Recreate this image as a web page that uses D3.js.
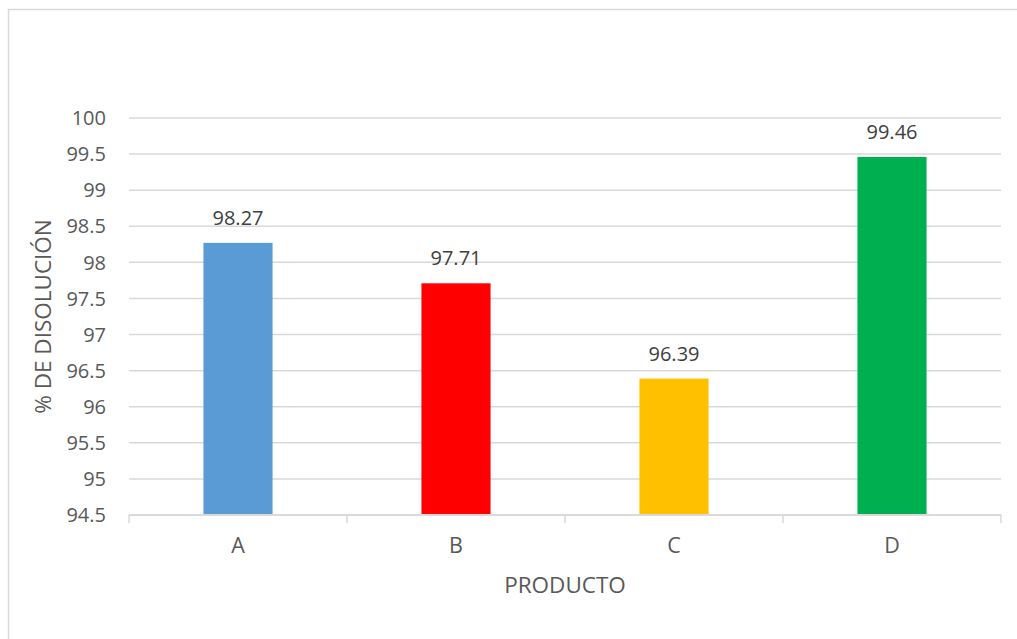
<!DOCTYPE html>
<html>
<head>
<meta charset="utf-8">
<script src="https://cdn.jsdelivr.net/npm/d3@7"></script>
<style>
  html, body { margin: 0; padding: 0; background: #fff; }
  svg { display: block; font-family: "Open Sans", "Liberation Sans", sans-serif; }
</style>
</head>
<body>
<svg id="chart" width="1017" height="639"></svg>
<script>
// Dissolution percentage per product
const categories = ["A", "B", "C", "D"];
const values = [98.27, 97.71, 96.39, 99.46];
const barColors = ["#5b9bd5", "#ff0000", "#ffc000", "#00b050"];
const yTicks = [94.5, 95, 95.5, 96, 96.5, 97, 97.5, 98, 98.5, 99, 99.5, 100];
const yTitle = "% DE DISOLUCIÓN";
const xTitle = "PRODUCTO";

const svg = d3.select("#chart");
const margin = { left: 129, right: 1001, top: 118, bottom: 515 };
const gridColor = "#d9d9d9";
const textColor = "#595959";

// chart frame
svg.append("rect")
  .attr("x", 8.5).attr("y", 9.5)
  .attr("width", 1030).attr("height", 650)
  .attr("fill", "none").attr("stroke", gridColor).attr("stroke-width", 1.5);

const x = d3.scaleBand()
  .domain(categories)
  .range([margin.left, margin.right])
  .paddingInner(0.683).paddingOuter(0.3415);

const xOuter = d3.scaleBand()
  .domain(categories)
  .range([margin.left, margin.right]);

const y = d3.scaleLinear()
  .domain([94.5, 100])
  .range([margin.bottom, margin.top]);

// horizontal gridlines
svg.append("g")
  .selectAll("line")
  .data(yTicks.slice(1))
  .join("line")
  .attr("x1", margin.left).attr("x2", margin.right)
  .attr("y1", d => y(d)).attr("y2", d => y(d))
  .attr("stroke", gridColor).attr("stroke-width", 1.5);

// y tick labels
svg.append("g")
  .selectAll("text")
  .data(yTicks)
  .join("text")
  .attr("x", 106)
  .attr("y", d => y(d))
  .attr("dy", "0.36em")
  .attr("text-anchor", "end")
  .attr("font-size", 20)
  .attr("fill", textColor)
  .text(d => d);

// bars
svg.append("g")
  .selectAll("rect")
  .data(values)
  .join("rect")
  .attr("x", (d, i) => x(categories[i]))
  .attr("width", x.bandwidth())
  .attr("y", d => y(d))
  .attr("height", d => y(94.5) - y(d))
  .attr("fill", (d, i) => barColors[i]);

// value labels
svg.append("g")
  .selectAll("text")
  .data(values)
  .join("text")
  .attr("x", (d, i) => x(categories[i]) + x.bandwidth() / 2)
  .attr("y", d => y(d) - 18)
  .attr("text-anchor", "middle")
  .attr("font-size", 20)
  .attr("fill", "#404040")
  .text(d => d.toFixed(2));

// x axis line and category-boundary ticks
const boundaries = categories.map(c => xOuter(c)).concat([margin.right]);
svg.append("line")
  .attr("x1", margin.left).attr("x2", margin.right)
  .attr("y1", y(94.5)).attr("y2", y(94.5))
  .attr("stroke", gridColor).attr("stroke-width", 2);
svg.append("g")
  .selectAll("line")
  .data(boundaries)
  .join("line")
  .attr("x1", d => d).attr("x2", d => d)
  .attr("y1", y(94.5)).attr("y2", y(94.5) + 8)
  .attr("stroke", gridColor).attr("stroke-width", 1.5);

// category labels
svg.append("g")
  .selectAll("text")
  .data(categories)
  .join("text")
  .attr("x", d => xOuter(d) + xOuter.bandwidth() / 2)
  .attr("y", 553)
  .attr("text-anchor", "middle")
  .attr("font-size", 21.5)
  .attr("fill", textColor)
  .text(d => d);

// axis titles
svg.append("text")
  .attr("x", (margin.left + margin.right) / 2)
  .attr("y", 593)
  .attr("text-anchor", "middle")
  .attr("font-size", 22.5)
  .attr("fill", textColor)
  .text(xTitle);

svg.append("text")
  .attr("transform", `translate(51, ${(margin.top + margin.bottom) / 2}) rotate(-90)`)
  .attr("text-anchor", "middle")
  .attr("font-size", 22.5)
  .attr("fill", textColor)
  .text(yTitle);
</script>
</body>
</html>
